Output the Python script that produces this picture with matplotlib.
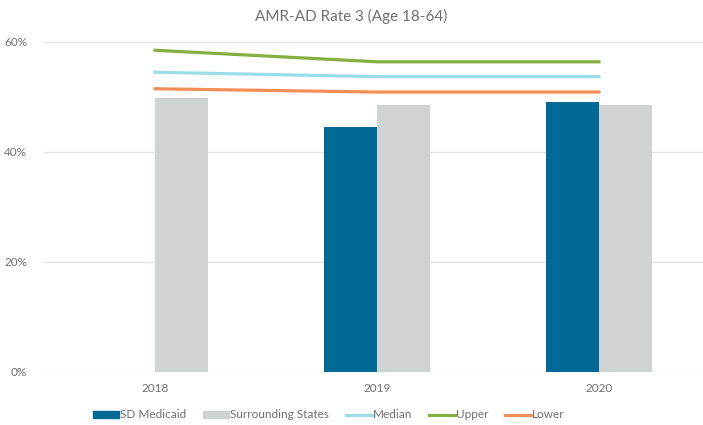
import matplotlib.pyplot as plt
import numpy as np
from matplotlib.patches import Patch
from matplotlib.lines import Line2D

years = ['2018', '2019', '2020']
sd_medicaid = [np.nan, 0.445, 0.491]
surrounding = [0.498, 0.485, 0.485]
median = [0.545, 0.537, 0.537]
upper = [0.585, 0.564, 0.564]
lower = [0.515, 0.509, 0.509]

plt.rcParams['font.family'] = ['Lato', 'DejaVu Sans']
txt = '#707070'
c_sd = '#006996'
c_sur = '#D0D3D4'
c_med = '#9ADCE8'
c_up = '#86AE40'
c_low = '#F48E57'

fig = plt.figure(figsize=(7.03, 4.25), dpi=100)
ax = fig.add_axes([44 / 703, 53 / 425, 659 / 703, 330 / 425])

x = np.arange(len(years))
w = 0.24
ax.bar(x - w / 2, sd_medicaid, w, color=c_sd, zorder=3)
ax.bar(x + w / 2, surrounding, w, color=c_sur, zorder=3)
ax.plot(x, median, color=c_med, lw=2.3, zorder=4)
ax.plot(x, upper, color=c_up, lw=2.3, zorder=4)
ax.plot(x, lower, color=c_low, lw=2.3, zorder=4)

ax.set_ylim(0, 0.6)
ax.set_xlim(-0.5, -0.5 + 659 / 222)
ax.set_yticks([0, 0.2, 0.4, 0.6])
ax.set_yticklabels(['0%', '20%', '40%', '60%'])
ax.set_xticks(x)
ax.set_xticklabels(years)
ax.tick_params(length=0, colors=txt, labelsize=8.5)
ax.tick_params(axis='y', pad=12)
ax.tick_params(axis='x', pad=8)
ax.grid(axis='y', color='#E3E3E3', lw=1, zorder=0)
for s in ax.spines.values():
    s.set_visible(False)

fig.text(0.5, 1 - 16 / 425, 'AMR-AD Rate 3 (Age 18-64)', ha='center', va='center',
         fontsize=11, color=txt)

handles = [Patch(color=c_sd), Patch(color=c_sur),
           Line2D([], [], color=c_med, lw=2.3), Line2D([], [], color=c_up, lw=2.3),
           Line2D([], [], color=c_low, lw=2.3)]
labels = ['SD Medicaid', 'Surrounding States', 'Median', 'Upper', 'Lower']
fig.legend(handles, labels, loc='center', bbox_to_anchor=(329 / 703, 1 - 415 / 425), ncol=5,
           frameon=False, fontsize=8.5, labelcolor=txt, handlelength=2.2,
           handletextpad=0.1, columnspacing=1.4, handleheight=0.6)

fig.savefig('out.png', dpi=100)
